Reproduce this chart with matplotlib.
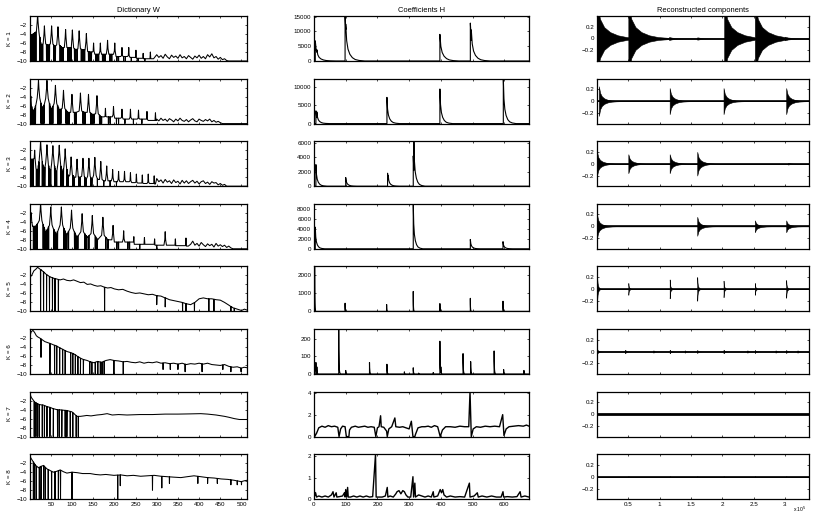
import numpy as np
import matplotlib
matplotlib.use("Agg")
import matplotlib.pyplot as plt

plt.rcParams['font.family'] = ['Liberation Sans', 'DejaVu Sans']
plt.rcParams['font.size'] = 4.5
plt.rcParams['xtick.direction'] = 'in'
plt.rcParams['ytick.direction'] = 'in'
plt.rcParams['xtick.top'] = True
plt.rcParams['ytick.right'] = True
plt.rcParams['xtick.major.size'] = 1.6
plt.rcParams['ytick.major.size'] = 1.6
plt.rcParams['xtick.major.width'] = 0.5
plt.rcParams['ytick.major.width'] = 0.5
plt.rcParams['xtick.major.pad'] = 2
plt.rcParams['ytick.major.pad'] = 2
plt.rcParams['axes.linewidth'] = 0.9

titles = ["Dictionary W", "Coefficients H", "Reconstructed components"]
row_labels = ["K = 1", "K = 2", "K = 3", "K = 4", "K = 5", "K = 6", "K = 7", "K = 8"]

# ---- dictionary W, harmonic rows: peak bins / log-levels, valley levels, deep dips, noisy tail
w1_start = -4.5
w1_peak_bin = [19, 35, 52, 67, 85, 101, 117, 134, 151, 167, 184, 201, 218, 234, 251, 268, 285]
w1_peak_db = [0.5, -2.2, -2.2, -2.4, -3.0, -3.1, -3.3, -3.9, -6.0, -6.0, -5.4, -6.0, -7.0, -7.0, -7.6, -8.3, -8.0]
w1_valley_db = [-6.5, -6.5, -6.8, -7.0, -7.0, -7.5, -7.5, -8.0, -8.5, -8.5, -8.5, -9.0, -9.0, -9.2, -9.4, -9.5, -9.5]
w1_dips = [2, 3, 4, 5, 6, 7, 8, 9, 10, 11, 13, 15, 24, 26, 28, 31, 40, 42, 44, 47, 57, 59, 61, 72, 74, 76, 79, 90, 92, 95, 98, 106, 108, 112, 122, 124, 127, 130, 139, 141, 143, 146, 156, 158, 160, 163, 172, 175, 178, 189, 192, 194, 206, 210, 222, 226, 240, 256, 272]
w1_tail_db = [-8.6, -9.2, -8.8, -9.4, -8.5, -9.1, -9.5, -8.7, -9.2, -8.9, -9.4, -8.6, -9.3, -9.0, -9.5, -8.8, -9.2, -9.6, -8.9, -9.3, -8.7, -9.4, -9.0, -9.5, -8.6, -9.1, -8.4, -9.3, -9.0, -9.6, -9.2, -9.7, -9.5, -9.9, -10, -10, -10]

w2_start = -5.0
w2_peak_bin = [3, 21, 41, 61, 80, 100, 120, 139, 159, 179, 198, 218, 238, 257, 277, 297]
w2_peak_db = [-3.9, -0.3, -0.4, -1.5, -2.6, -3.5, -3.2, -3.5, -3.8, -6.6, -6.2, -6.8, -6.8, -7.0, -7.3, -7.6]
w2_valley_db = [-7.0, -7.0, -7.0, -7.0, -7.5, -7.5, -7.5, -8.0, -8.5, -8.5, -8.8, -9.0, -9.0, -9.0, -9.3, -9.3]
w2_dips = [5, 6, 8, 10, 11, 13, 14, 27, 29, 30, 32, 34, 47, 49, 51, 53, 55, 66, 68, 70, 72, 74, 86, 88, 90, 92, 94, 106, 108, 110, 126, 129, 131, 144, 146, 148, 152, 165, 168, 170, 186, 190, 205, 210, 225, 245, 265]
w2_tail_db = [-9.0, -9.4, -8.8, -9.3, -9.0, -9.5, -8.9, -9.2, -9.6, -9.0, -9.4, -8.8, -9.3, -9.5, -9.1, -9.6, -9.2, -8.9, -9.4, -9.6, -9.0, -9.3, -9.5, -9.1, -9.4, -9.0, -9.6, -9.3, -9.7, -9.5, -9.8, -10, -10, -10, -10, -10, -10]

w3_start = -4.0
w3_peak_bin = [12, 26, 41, 55, 70, 84, 98, 112, 126, 140, 154, 168, 182, 196, 210, 224, 238, 252, 266, 280, 294]
w3_peak_db = [-2.0, 0.2, -0.8, -1.0, -0.9, -1.7, -3.5, -4.0, -3.8, -3.8, -3.6, -4.5, -5.5, -6.3, -6.7, -6.7, -7.0, -7.3, -7.5, -7.3, -7.7]
w3_valley_db = [-7.0, -7.0, -7.5, -7.5, -7.5, -8.0, -8.0, -8.0, -8.5, -8.5, -8.5, -8.8, -8.8, -9.0, -9.0, -9.0, -9.2, -9.3, -9.4, -9.4, -9.5]
w3_dips = [2, 3, 4, 5, 6, 7, 9, 16, 17, 18, 19, 20, 21, 22, 30, 31, 33, 35, 36, 45, 46, 48, 50, 59, 60, 62, 64, 74, 75, 77, 80, 88, 90, 91, 102, 103, 105, 116, 117, 119, 130, 133, 145, 147, 160, 175, 190, 205]
w3_tail_db = [-8.3, -9.0, -8.6, -9.3, -8.5, -9.1, -8.8, -9.4, -8.6, -9.2, -8.9, -9.5, -8.7, -9.3, -8.8, -9.4, -9.0, -8.7, -9.3, -8.9, -9.5, -9.0, -8.8, -9.4, -9.1, -9.6, -9.0, -9.3, -9.2, -9.7, -9.4, -9.8, -9.6, -10, -10, -10, -10]

w4_start = -2.5
w4_peak_bin = [4, 26, 50, 75, 99, 124, 148, 173, 197, 222, 246, 271, 295, 320, 344, 369]
w4_peak_db = [-2.0, 0.3, -0.7, -0.7, -1.4, -2.2, -2.6, -3.0, -4.8, -6.0, -7.3, -7.5, -7.8, -6.2, -7.8, -7.6]
w4_valley_db = [-5.0, -6.5, -7.0, -7.0, -7.5, -7.5, -8.0, -8.0, -8.5, -8.5, -9.0, -9.0, -9.2, -9.2, -9.3, -9.4]
w4_dips = [9, 10, 12, 13, 15, 16, 18, 32, 34, 35, 38, 40, 42, 45, 57, 59, 60, 63, 66, 81, 83, 85, 88, 92, 106, 108, 110, 114, 130, 133, 135, 140, 155, 158, 160, 180, 185, 206, 210, 232, 236, 260, 300]
w4_tail_db = [-9.0, -8.3, -9.2, -8.8, -9.4, -8.6, -9.1, -9.5, -8.9, -9.3, -9.0, -9.6, -8.8, -9.4, -9.1, -9.5, -9.2, -9.7, -9.4, -9.8, -10, -10, -10, -10, -10]

tail_start = [300, 300, 300, 380]
tail_step = 5

# ---- dictionary W, broadband rows: read keypoints and dips (bin, bottom level)
w5_bin = [1, 5, 10, 15, 19, 23, 28, 34, 40, 48, 56, 64, 72, 80, 88, 96, 104, 112, 120, 128, 136, 144, 152, 160, 168, 176, 184, 192, 200, 210, 220, 230, 240, 250, 260, 270, 280, 290, 300, 310, 320, 330, 340, 350, 360, 370, 380, 390, 400, 410, 420, 430, 440, 450, 460, 470, 480, 490, 500, 507, 513]
w5_db = [-2.4, -2.0, -1.0, -0.6, -0.2, -0.5, -0.8, -1.3, -1.8, -2.3, -2.6, -2.8, -3.0, -2.8, -3.1, -3.2, -3.0, -3.3, -3.6, -3.5, -4.0, -3.9, -4.2, -4.4, -4.3, -4.6, -4.8, -4.7, -5.0, -5.2, -5.1, -5.5, -5.8, -6.0, -5.9, -6.1, -6.3, -6.2, -6.5, -6.6, -7.0, -7.4, -7.6, -7.8, -8.0, -8.3, -8.5, -8.0, -7.2, -7.0, -7.2, -7.2, -7.4, -7.5, -8.0, -8.6, -9.2, -9.5, -9.8, -9.5, -9.7]
w5_dip_bin = [26, 33, 40, 47, 54, 60, 68, 177, 300, 320, 361, 369, 389, 423, 435, 475, 483]
w5_dip_db = [-10, -10, -10, -10, -10, -10, -10, -10, -8.5, -9.0, -10, -10, -10, -10, -10, -10, -10]

w6_bin = [1, 4, 8, 12, 16, 20, 24, 30, 36, 42, 48, 56, 64, 72, 80, 88, 96, 104, 112, 120, 128, 136, 144, 152, 160, 170, 180, 190, 200, 210, 220, 230, 240, 250, 260, 270, 280, 290, 300, 310, 320, 330, 340, 350, 360, 370, 380, 390, 400, 410, 420, 430, 440, 450, 460, 470, 480, 490, 500, 506, 513]
w6_db = [-1.5, -0.6, -0.3, -0.8, -1.5, -1.8, -2.0, -2.4, -2.8, -3.0, -3.2, -3.5, -3.8, -4.2, -4.6, -5.0, -5.2, -5.5, -6.0, -6.5, -6.8, -7.0, -7.3, -7.5, -7.2, -7.4, -7.0, -6.8, -7.0, -7.1, -7.3, -7.2, -7.4, -7.5, -7.3, -7.6, -7.4, -7.5, -7.3, -7.6, -7.5, -7.7, -7.6, -7.8, -7.6, -7.9, -7.7, -7.8, -7.6, -7.8, -7.6, -7.9, -8.0, -8.1, -7.9, -8.3, -8.5, -8.4, -8.7, -8.5, -8.6]
w6_dip_bin = [27, 48, 59, 64, 71, 78, 84, 97, 102, 108, 114, 120, 127, 142, 147, 155, 161, 167, 171, 176, 199, 221, 315, 332, 350, 367, 407, 456, 475, 499]
w6_dip_db = [-6.3, -10, -10, -10, -10, -10, -10, -10, -10, -10, -10, -10, -10, -10, -10, -10, -10, -10, -10, -10, -10, -10, -9.0, -9.0, -9.0, -9.5, -9.5, -9.0, -9.5, -9.5]

w7_bin = [1, 4, 8, 12, 17, 24, 33, 40, 48, 56, 64, 76, 88, 100, 106, 112, 120, 128, 135, 145, 159, 170, 183, 195, 210, 230, 260, 290, 320, 350, 380, 404, 420, 440, 460, 470, 483, 495, 505, 513]
w7_db = [-0.5, -1.3, -1.8, -2.3, -2.6, -2.9, -3.0, -3.3, -3.5, -3.8, -4.0, -4.1, -4.2, -4.5, -5.0, -5.5, -5.5, -5.4, -5.3, -5.4, -5.2, -5.1, -4.9, -5.2, -5.1, -5.2, -5.1, -5.1, -5.0, -5.0, -4.95, -4.9, -5.0, -5.2, -5.5, -5.7, -6.0, -6.2, -6.2, -6.2]
w7_dip_bin = [11, 15, 19, 23, 30, 35, 41, 48, 56, 66, 70, 76, 84, 88, 96, 102, 110, 115]
w7_dip_db = [-10] * 18

w8_bin = [1, 4, 8, 14, 21, 27, 33, 40, 48, 56, 64, 72, 80, 88, 100, 112, 125, 143, 155, 167, 180, 199, 215, 230, 245, 262, 278, 294, 310, 325, 340, 357, 372, 388, 404, 420, 436, 452, 468, 483, 499, 507, 513]
w8_db = [-0.5, -1.0, -1.6, -2.5, -3.0, -2.7, -2.5, -3.2, -3.6, -4.0, -3.8, -3.5, -3.9, -4.2, -4.0, -4.1, -4.3, -4.3, -4.5, -4.6, -4.5, -4.7, -4.6, -4.8, -4.7, -4.9, -4.8, -4.7, -4.9, -5.0, -5.1, -5.2, -5.0, -4.8, -5.0, -5.2, -5.3, -5.5, -5.6, -5.8, -6.1, -5.9, -5.8]
w8_dip_bin = [9, 12, 16, 23, 27, 33, 37, 44, 52, 60, 68, 73, 100, 208, 214, 290, 312, 330, 397, 420, 443, 475, 490, 500]
w8_dip_db = [-10, -10, -10, -10, -10, -10, -10, -10, -10, -10, -10, -10, -10, -10, -7.0, -8.0, -7.5, -6.5, -6.5, -6.5, -6.5, -6.8, -6.8, -6.8]

# ---- coefficients H: onsets (frame) and peak values, decay length in frames
h1_frame = [4, 9, 98, 100, 397, 493, 496]
h1_val = [6800, 3800, 15200, 12500, 9000, 12800, 10500]
h2_frame = [6, 9, 230, 397, 597]
h2_val = [3500, 3200, 7200, 9500, 12350]
h3_frame = [6, 100, 232, 234, 313, 315]
h3_val = [3000, 1200, 1800, 1500, 4200, 6250]
h4_frame = [4, 313, 493, 596]
h4_val = [4400, 9150, 1900, 1450]
h5_frame = [2, 98, 229, 313, 397, 493, 596]
h5_val = [2480, 450, 380, 1100, 430, 720, 560]
h6_frame = [6, 9, 78, 100, 175, 230, 285, 313, 330, 376, 397, 400, 470, 494, 568, 598, 662]
h6_val = [65, 40, 254, 20, 65, 55, 12, 35, 5, 8, 185, 40, 115, 70, 130, 25, 20]
h_decay = [60, 40, 35, 30, 4, 6]

h7_frame = [0, 2, 8, 15, 25, 35, 45, 55, 65, 75, 79, 84, 90, 98, 102, 110, 112, 118, 130, 140, 150, 160, 170, 180, 190, 195, 200, 205, 210, 212, 220, 229, 231, 236, 245, 255, 258, 270, 280, 290, 300, 307, 312, 318, 320, 328, 340, 350, 360, 370, 380, 390, 398, 405, 415, 430, 445, 460, 475, 488, 492, 496, 502, 512, 525, 540, 555, 570, 585, 595, 599, 606, 615, 630, 645, 660, 670, 678]
h7_val = [1.0, 0.0, 0.3, 0.8, 0.95, 0.85, 1.0, 0.9, 0.95, 0.85, 0.0, 0.7, 0.95, 0.9, 0.0, 0.0, 0.6, 0.85, 0.95, 0.85, 0.9, 0.95, 0.85, 0.9, 0.85, 0.0, 0.8, 0.9, 1.9, 0.9, 0.85, 0.5, 0.0, 0.7, 0.9, 1.7, 0.9, 0.85, 0.9, 0.8, 0.7, 1.4, 0.0, 0.0, 0.2, 0.8, 0.9, 0.9, 0.95, 0.85, 1.0, 0.9, 0.0, 0.6, 0.9, 0.9, 0.85, 0.95, 0.9, 0.9, 4.1, 0.0, 0.7, 0.9, 0.85, 0.95, 0.9, 0.95, 0.9, 2.0, 0.1, 0.7, 0.9, 0.95, 1.0, 0.95, 1.05, 0.95]
h8_frame = [0, 2, 5, 8, 15, 25, 35, 45, 55, 60, 63, 70, 72, 80, 90, 96, 98, 100, 103, 106, 108, 115, 125, 135, 145, 155, 165, 175, 185, 194, 196, 205, 215, 225, 231, 233, 240, 250, 258, 262, 268, 274, 280, 285, 290, 296, 305, 312, 314, 318, 320, 330, 340, 350, 360, 370, 376, 378, 390, 398, 402, 406, 410, 418, 430, 445, 460, 475, 490, 492, 505, 515, 518, 530, 545, 560, 575, 590, 596, 598, 610, 625, 640, 650, 653, 665, 678]
h8_val = [0.7, 0.15, 0.3, 0.1, 0.15, 0.1, 0.15, 0.1, 0.2, 0.35, 0.1, 0.3, 0.1, 0.12, 0.15, 0.3, 0.1, 0.45, 0.1, 0.55, 0.1, 0.1, 0.15, 0.1, 0.15, 0.1, 0.15, 0.1, 0.12, 2.1, 0.1, 0.1, 0.1, 0.15, 0.55, 0.1, 0.15, 0.1, 0.25, 0.35, 0.4, 0.25, 0.4, 0.35, 0.2, 0.1, 0.1, 1.05, 0.1, 0.75, 0.1, 0.2, 0.15, 0.1, 0.15, 0.1, 0.35, 0.1, 0.15, 0.45, 0.3, 0.45, 0.2, 0.1, 0.15, 0.1, 0.12, 0.1, 0.75, 0.1, 0.15, 0.3, 0.1, 0.15, 0.1, 0.15, 0.1, 0.1, 0.35, 0.1, 0.12, 0.1, 0.12, 0.35, 0.1, 0.15, 0.1]

h_ticks = [[0, 5000, 10000, 15000], [0, 5000, 10000], [0, 2000, 4000, 6000], [0, 2000, 4000, 6000, 8000],
           [0, 1000, 2000], [0, 100, 200], [0, 2, 4], [0, 1, 2]]

# ---- reconstructed components: burst onsets (x 10^5 samples), envelope amplitudes
r1_onset = [0.0, 0.5, 1.15, 1.6, 2.03, 2.52, 3.0]
r1_amp = [0.6, 0.6, 0.025, 0.02, 0.6, 0.6, 0.03]
r2_onset = [0.03, 1.16, 2.02, 3.02]
r2_amp = [0.25, 0.22, 0.22, 0.22]
r3_onset = [0.0, 0.5, 1.16, 1.6, 3.05]
r3_amp = [0.2, 0.16, 0.16, 0.2, 0.015]
r4_onset = [0.0, 1.6, 2.52, 3.02]
r4_amp = [0.2, 0.16, 0.1, 0.1]
r5_onset = [0.0, 0.5, 1.16, 1.6, 2.02, 2.52, 3.02]
r5_amp = [0.3, 0.1, 0.16, 0.2, 0.14, 0.1, 0.15]
r6_onset = [0.0, 0.45, 0.9, 1.16, 1.4, 1.6, 2.02, 2.4, 2.52, 2.85, 3.02, 3.2]
r6_amp = [0.05, 0.03, 0.02, 0.03, 0.02, 0.025, 0.03, 0.02, 0.025, 0.02, 0.025, 0.02]
r7_onset = []
r7_amp = []
r8_onset = [0.0, 0.5, 1.16, 1.6, 2.02, 2.52, 3.02]
r8_amp = [0.012, 0.008, 0.008, 0.008, 0.008, 0.008, 0.008]
r_decay = [0.95, 0.4, 0.4, 0.35, 0.08, 0.15, 0.1, 0.1]

# shared decay shape read from the H spikes (fraction of peak vs fraction of decay length)
decay_pos = [0, 0.05, 0.12, 0.22, 0.35, 0.5, 0.7, 1.0]
decay_frac = [1, 0.55, 0.32, 0.18, 0.09, 0.04, 0.015, 0]

n_bins = 513
n_frames = 678
n_samples = 3.384


def harmonic_line(start, peaks, heights, valleys, t0, tail):
    xs, ys = [1.0], [start]
    for i, (p, h, v) in enumerate(zip(peaks, heights, valleys)):
        pv = valleys[i - 1] if i > 0 else start
        xs += [p - 3, p - 1, p, p + 1, p + 3]
        ys += [max(h - 4, pv), max(h - 1.8, pv), h, max(h - 1.8, v), max(h - 4, v)]
        nxt = peaks[i + 1] if i + 1 < len(peaks) else t0
        xs.append((p + nxt) / 2)
        ys.append(v)
    xs += [t0 + k * tail_step for k in range(len(tail))]
    ys += list(tail)
    xs.append(n_bins)
    ys.append(-10)
    return xs, ys


def add_dips(xs, ys, dip_x, dip_y):
    px, py = np.array(xs, float), np.array(ys, float)
    xs, ys = list(xs), list(ys)
    for d, b in zip(dip_x, dip_y):
        lvl = np.interp(d, px, py)
        xs += [d - 0.4, d, d + 0.4]
        ys += [lvl, b, lvl]
    order = np.argsort(xs, kind='stable')
    return np.array(xs)[order], np.array(ys)[order]


def spike_train(onsets, heights, length, x_end):
    xs, ys = [0.0], [0.0]
    for i, (t0, h) in enumerate(zip(onsets, heights)):
        nxt = onsets[i + 1] if i + 1 < len(onsets) else x_end
        xs += [t0, t0]
        ys += [ys[-1], h]
        for p, f in zip(decay_pos[1:], decay_frac[1:]):
            t = t0 + p * length
            if t >= nxt:
                xs.append(nxt)
                ys.append(h * np.interp((nxt - t0) / length, decay_pos, decay_frac))
                break
            xs.append(t)
            ys.append(h * f)
    xs.append(x_end)
    ys.append(ys[-1])
    return np.array(xs), np.array(ys)


w_harm = [(w1_start, w1_peak_bin, w1_peak_db, w1_valley_db, w1_tail_db, w1_dips),
          (w2_start, w2_peak_bin, w2_peak_db, w2_valley_db, w2_tail_db, w2_dips),
          (w3_start, w3_peak_bin, w3_peak_db, w3_valley_db, w3_tail_db, w3_dips),
          (w4_start, w4_peak_bin, w4_peak_db, w4_valley_db, w4_tail_db, w4_dips)]
w_rows = []
for (s, pb, pd, vd, td, dips), ts in zip(w_harm, tail_start):
    w_rows.append(add_dips(*harmonic_line(s, pb, pd, vd, ts, td), dips, [-10] * len(dips)))
w_rows += [add_dips(w5_bin, w5_db, w5_dip_bin, w5_dip_db),
           add_dips(w6_bin, w6_db, w6_dip_bin, w6_dip_db),
           add_dips(w7_bin, w7_db, w7_dip_bin, w7_dip_db),
           add_dips(w8_bin, w8_db, w8_dip_bin, w8_dip_db)]

h_spikes = [(h1_frame, h1_val), (h2_frame, h2_val), (h3_frame, h3_val),
            (h4_frame, h4_val), (h5_frame, h5_val), (h6_frame, h6_val)]
h_rows = [spike_train(f, v, d, n_frames) for (f, v), d in zip(h_spikes, h_decay)]
h_rows += [(np.array(h7_frame), np.array(h7_val)), (np.array(h8_frame), np.array(h8_val))]

r_bursts = [(r1_onset, r1_amp), (r2_onset, r2_amp), (r3_onset, r3_amp), (r4_onset, r4_amp),
            (r5_onset, r5_amp), (r6_onset, r6_amp), (r7_onset, r7_amp), (r8_onset, r8_amp)]
r_rows = [spike_train(o, a, d, n_samples) for (o, a), d in zip(r_bursts, r_decay)]

fig = plt.figure(figsize=(8.14, 5.16), dpi=100)
W, H = 814.0, 516.0
col_left = [30, 314, 597]
col_width = [217, 215, 212]
row_top0, row_step, row_h = 16, 62.6, 45

for r in range(8):
    top = row_top0 + r * row_step
    axs = [fig.add_axes([col_left[c] / W, 1 - (top + row_h) / H, col_width[c] / W, row_h / H]) for c in range(3)]

    # W
    ax = axs[0]
    x, y = w_rows[r]
    ax.plot(x, y, color='k', lw=0.75)
    ax.set_xlim(1, n_bins)
    ax.set_ylim(-10, 0)
    ax.set_yticks([-10, -8, -6, -4, -2])
    ax.set_xticks(range(50, 501, 50))
    ax.set_ylabel(row_labels[r], labelpad=3)

    # H
    ax = axs[1]
    x, y = h_rows[r]
    ax.plot(x, y, color='k', lw=1.0 if r >= 6 else 0.8)
    ax.set_xlim(0, n_frames)
    ax.set_ylim(0, y.max())
    ax.set_yticks(h_ticks[r])
    ax.set_yticklabels([str(t) for t in h_ticks[r]])
    ax.set_xticks(range(0, 601, 100))

    # reconstructed
    ax = axs[2]
    x, y = r_rows[r]
    ax.fill_between(x, -y, y, facecolor='k', edgecolor='k', lw=0.4)
    ax.plot([0, n_samples], [0, 0], color='k', lw=2.0 if r == 6 else 1.2)
    ax.set_xlim(0, n_samples)
    ax.set_ylim(-0.38, 0.38)
    ax.set_yticks([-0.2, 0, 0.2])
    ax.set_yticklabels(['\u22120.2', '0', '0.2'])
    ax.set_xticks([0.5, 1, 1.5, 2, 2.5, 3])

    if r == 0:
        for a, t in zip(axs, titles):
            a.set_title(t, pad=3)
    if r == 7:
        axs[2].set_xticklabels(['0.5', '1', '1.5', '2', '2.5', '3'])
    else:
        for a in axs:
            a.set_xticklabels([])

fig.text(806 / W, 2 / H, r'x 10$^5$', ha='right', va='bottom', fontsize=3.6)

fig.savefig('out.png', dpi=100)
